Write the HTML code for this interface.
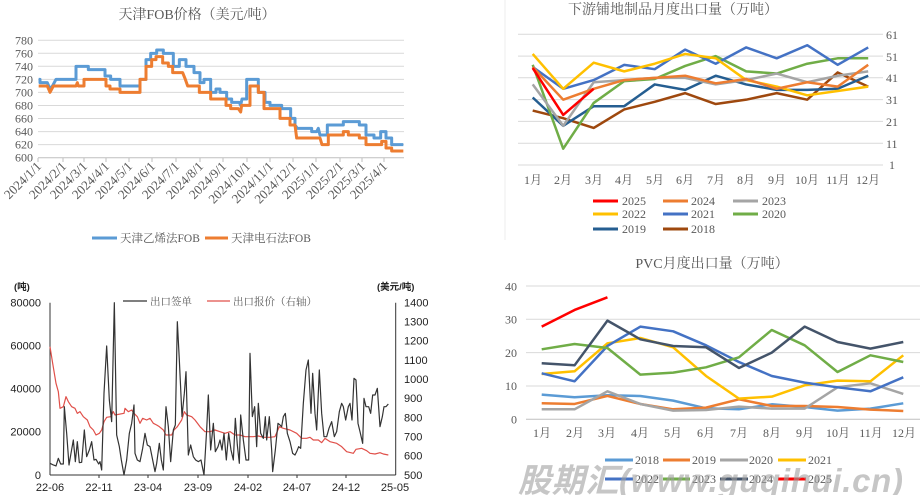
<!DOCTYPE html>
<html><head><meta charset="utf-8"><style>
html,body{margin:0;padding:0;background:#fff;}
svg{display:block;}
.s{font-family:"Liberation Serif","Noto Serif CJK SC",serif;fill:#595959;}
.a{font-family:"Liberation Sans","Noto Sans CJK SC",sans-serif;fill:#222;}
.ln{fill:none;vector-effect:non-scaling-stroke;stroke-linejoin:round;}
.g{stroke:#d9d9d9;stroke-width:1;}
</style></head><body>
<svg width="921" height="495" viewBox="0 0 921 495" xmlns="http://www.w3.org/2000/svg">
<rect width="921" height="495" fill="#fff"/>

<!-- Chart 1 -->
<text class="s" x="197" y="19" font-size="14" text-anchor="middle">天津FOB价格（美元/吨）</text>
<g class="g">
<line x1="38" x2="404" y1="40.2" y2="40.2"/><line x1="38" x2="404" y1="53.3" y2="53.3"/><line x1="38" x2="404" y1="66.3" y2="66.3"/><line x1="38" x2="404" y1="79.4" y2="79.4"/><line x1="38" x2="404" y1="92.4" y2="92.4"/><line x1="38" x2="404" y1="105.5" y2="105.5"/><line x1="38" x2="404" y1="118.5" y2="118.5"/><line x1="38" x2="404" y1="131.6" y2="131.6"/><line x1="38" x2="404" y1="144.6" y2="144.6"/>
</g>
<line x1="38" x2="404" y1="157.7" y2="157.7" stroke="#bfbfbf"/>
<g class="s" font-size="12" text-anchor="end">
<text x="33" y="44.5">780</text><text x="33" y="57.5">760</text><text x="33" y="70.5">740</text><text x="33" y="83.5">720</text><text x="33" y="96.5">700</text><text x="33" y="109.5">680</text><text x="33" y="122.5">660</text><text x="33" y="135.5">640</text><text x="33" y="148.5">620</text><text x="33" y="161.5">600</text>
</g>
<g stroke="#bfbfbf"><line x1="38" x2="38" y1="158" y2="162"/><line x1="63" x2="63" y1="158" y2="162"/><line x1="84" x2="84" y1="158" y2="162"/><line x1="106" x2="106" y1="158" y2="162"/><line x1="129" x2="129" y1="158" y2="162"/><line x1="152" x2="152" y1="158" y2="162"/><line x1="176" x2="176" y1="158" y2="162"/><line x1="200" x2="200" y1="158" y2="162"/><line x1="223" x2="223" y1="158" y2="162"/><line x1="247" x2="247" y1="158" y2="162"/><line x1="270" x2="270" y1="158" y2="162"/><line x1="293" x2="293" y1="158" y2="162"/><line x1="316" x2="316" y1="158" y2="162"/><line x1="340" x2="340" y1="158" y2="162"/><line x1="362" x2="362" y1="158" y2="162"/><line x1="384" x2="384" y1="158" y2="162"/></g>
<g class="s" font-size="13" text-anchor="end">
<text transform="translate(42,167) rotate(-45)">2024/1/1</text>
<text transform="translate(67,167) rotate(-45)">2024/2/1</text>
<text transform="translate(88,167) rotate(-45)">2024/3/1</text>
<text transform="translate(110,167) rotate(-45)">2024/4/1</text>
<text transform="translate(133,167) rotate(-45)">2024/5/1</text>
<text transform="translate(156,167) rotate(-45)">2024/6/1</text>
<text transform="translate(180,167) rotate(-45)">2024/7/1</text>
<text transform="translate(204,167) rotate(-45)">2024/8/1</text>
<text transform="translate(227,167) rotate(-45)">2024/9/1</text>
<text transform="translate(251,167) rotate(-45)">2024/10/1</text>
<text transform="translate(274,167) rotate(-45)">2024/11/1</text>
<text transform="translate(297,167) rotate(-45)">2024/12/1</text>
<text transform="translate(320,167) rotate(-45)">2025/1/1</text>
<text transform="translate(344,167) rotate(-45)">2025/2/1</text>
<text transform="translate(366,167) rotate(-45)">2025/3/1</text>
<text transform="translate(388,167) rotate(-45)">2025/4/1</text>
</g>
<g transform="scale(0.33333)">
<path class="ln" stroke="#5b9bd5" stroke-width="3" d="M116,238 H120 V248 H142 L150,267 L158,257 L168,238 H228 V199 H265 V209 H315 V228 H332 V238 H360 V258 H420 V238 H438 V179 H452 V160 H470 V150 H490 V160 H520 V199 H538 V179 H558 V199 H582 V218 H600 V248 H612 V238 H632 V277 H648 V267 H660 V277 H680 V297 H695 V307 H718 L722,316 L726,297 H740 V238 H775 V277 H795 V307 H810 V316 H845 V326 H872 V355 H885 V375 L892,385 H935 V395 H950 L955,385 L960,405 H982 V375 H1030 V365 H1078 V375 H1098 V405 H1122 V414 H1142 V395 H1158 V414 H1175 V434 H1210"/>
<path class="ln" stroke="#ed7d31" stroke-width="3" d="M116,258 H142 L150,277 L160,258 H228 L232,248 L235,258 H252 V238 H318 V258 H330 V267 H360 V277 H420 V238 H438 V199 H455 V179 H468 V170 H488 V189 H505 V199 H518 V218 H548 L556,238 L563,258 H598 V277 H632 V297 H678 V316 H692 V326 H715 L722,336 L725,316 H750 V258 H775 V277 H792 V326 H840 V355 H870 V375 H885 L890,414 H960 L966,434 H985 V405 H1030 V395 H1045 V405 H1078 V414 H1098 V434 H1145 V424 H1158 V444 H1175 V453 H1210"/>
</g>
<line x1="92" x2="117" y1="238" y2="238" stroke="#5b9bd5" stroke-width="3"/>
<text class="s" x="120" y="242" font-size="11.5">天津乙烯法FOB</text>
<line x1="205" x2="228" y1="238" y2="238" stroke="#ed7d31" stroke-width="3"/>
<text class="s" x="231" y="242" font-size="11.5">天津电石法FOB</text>

<!-- Chart 2 -->
<line x1="505" x2="505" y1="0" y2="240" stroke="#eeeeee"/>
<text class="s" x="673" y="14" font-size="14" text-anchor="middle">下游铺地制品月度出口量（万吨）</text>
<g class="g">
<line x1="518" x2="883" y1="34.3" y2="34.3"/><line x1="518" x2="883" y1="56.1" y2="56.1"/><line x1="518" x2="883" y1="77.8" y2="77.8"/><line x1="518" x2="883" y1="99.6" y2="99.6"/><line x1="518" x2="883" y1="121.4" y2="121.4"/><line x1="518" x2="883" y1="143.2" y2="143.2"/><line x1="518" x2="883" y1="165" y2="165"/>
</g>
<g class="s" font-size="12">
<text x="886" y="39">61</text><text x="886" y="61">51</text><text x="886" y="82">41</text><text x="886" y="104">31</text><text x="886" y="126">21</text><text x="886" y="148">11</text><text x="889" y="169">1</text>
</g>
<g class="s" font-size="12" text-anchor="middle">
<text x="533" y="184">1月</text><text x="563" y="184">2月</text><text x="594" y="184">3月</text><text x="624" y="184">4月</text><text x="655" y="184">5月</text><text x="685" y="184">6月</text><text x="716" y="184">7月</text><text x="746" y="184">8月</text><text x="777" y="184">9月</text><text x="807" y="184">10月</text><text x="838" y="184">11月</text><text x="868" y="184">12月</text>
</g>
<g transform="translate(532.7,167.18) scale(30.5,-2.1777)">
<polyline class="ln" stroke="#9e480e" stroke-width="2.5" points="0,26 1,22.5 2,18 3,26.5 4,30 5,34 6,29 7,31 8,34 9,31 10,43.5 11,37"/>
<polyline class="ln" stroke="#255e91" stroke-width="2.5" points="0,32 1,19 2,28 3,28 4,38 5,35.5 6,42 7,38 8,35.5 9,35.5 10,36 11,42"/>
<polyline class="ln" stroke="#70ad47" stroke-width="2.5" points="0,47 1,8.5 2,29.5 3,39.5 4,40.5 5,46.5 6,51 7,44 8,43 9,47.5 10,50 11,50"/>
<polyline class="ln" stroke="#4472c4" stroke-width="2.5" points="0,46 1,36 2,40 3,47 4,45 5,54 6,47.5 7,55 8,50 9,56 10,47 11,55"/>
<polyline class="ln" stroke="#ffc000" stroke-width="2.5" points="0,52 1,36 2,48 3,44 4,47.5 5,52 6,50 7,40 8,37 9,33 10,35 11,37"/>
<polyline class="ln" stroke="#a5a5a5" stroke-width="2.5" points="0,38 1,19 2,39 3,40 4,41 5,41 6,38 7,40 8,43 9,39 10,42 11,44"/>
<polyline class="ln" stroke="#ed7d31" stroke-width="2.5" points="0,46 1,31 2,36 3,40 4,41 5,42 6,38.5 7,40.5 8,36 9,39 10,37 11,47"/>
<polyline class="ln" stroke="#ff0000" stroke-width="2.5" points="0,45.5 1,24 2,36"/>
</g>
<g stroke-width="3">
<line x1="593" x2="618" y1="201" y2="201" stroke="#ff0000"/><line x1="663" x2="688" y1="201" y2="201" stroke="#ed7d31"/><line x1="733" x2="758" y1="201" y2="201" stroke="#a5a5a5"/>
<line x1="593" x2="618" y1="214" y2="214" stroke="#ffc000"/><line x1="663" x2="688" y1="214" y2="214" stroke="#4472c4"/><line x1="733" x2="758" y1="214" y2="214" stroke="#70ad47"/>
<line x1="593" x2="618" y1="229" y2="229" stroke="#255e91"/><line x1="663" x2="688" y1="229" y2="229" stroke="#9e480e"/>
</g>
<g class="s" font-size="12">
<text x="622" y="205">2025</text><text x="691" y="205">2024</text><text x="762" y="205">2023</text>
<text x="622" y="218">2022</text><text x="691" y="218">2021</text><text x="762" y="218">2020</text>
<text x="622" y="233">2019</text><text x="691" y="233">2018</text>
</g>

<!-- Chart 3 -->
<text class="a" x="14" y="290" font-size="9.5" font-weight="bold">(吨)</text>
<text class="a" x="377" y="290" font-size="9.5" font-weight="bold">(美元/吨)</text>
<line x1="50" x2="50" y1="302.7" y2="475" stroke="#333"/>
<line x1="395.7" x2="395.7" y1="302.7" y2="475" stroke="#333"/>
<line x1="50" x2="395.7" y1="475" y2="475" stroke="#333"/>
<g class="a" font-size="11" text-anchor="end">
<text x="41" y="306.5">80000</text><text x="41" y="349.5">60000</text><text x="41" y="392.5">40000</text><text x="41" y="435.5">20000</text><text x="41" y="479">0</text>
</g>
<g class="a" font-size="11">
<text x="404" y="306.5">1400</text><text x="404" y="325.5">1300</text><text x="404" y="344.5">1200</text><text x="404" y="364">1100</text><text x="404" y="383">1000</text><text x="404" y="402">900</text><text x="404" y="421.5">800</text><text x="404" y="440.5">700</text><text x="404" y="459.5">600</text><text x="404" y="479">500</text>
</g>
<g stroke="#333"><line x1="99" x2="99" y1="475" y2="478"/><line x1="148" x2="148" y1="475" y2="478"/><line x1="198" x2="198" y1="475" y2="478"/><line x1="248" x2="248" y1="475" y2="478"/><line x1="297" x2="297" y1="475" y2="478"/><line x1="346" x2="346" y1="475" y2="478"/></g>
<g class="a" font-size="11" text-anchor="middle">
<text x="50" y="491">22-06</text><text x="99" y="491">22-11</text><text x="148" y="491">23-04</text><text x="198" y="491">23-09</text><text x="248" y="491">24-02</text><text x="297" y="491">24-07</text><text x="346" y="491">24-12</text><text x="395" y="491">25-05</text>
</g>
<line x1="123" x2="147" y1="301" y2="301" stroke="#333" stroke-width="1.2"/>
<text class="s" x="150" y="305" font-size="10.5" fill="#444">出口签单</text>
<line x1="207" x2="230" y1="301" y2="301" stroke="#e0504a" stroke-width="1.2"/>
<text class="s" x="233" y="305" font-size="10.5" fill="#444">出口报价（右轴）</text>
<g transform="translate(0,260) scale(0.33333)">
<polyline class="ln" stroke="#e0504a" stroke-width="1.2" points="150,260 158,310 168,370 175,395 180,445 190,440 198,410 205,425 215,440 225,445 232,460 240,455 250,470 262,480 270,500 280,510 288,525 298,520 305,510 312,485 320,472 332,470 340,455 345,465 372,460 375,445 385,455 395,450 402,460 412,470 420,490 428,475 440,480 450,475 460,490 470,495 478,500 490,510 498,525 515,525 522,510 532,500 545,480 553,455 560,465 575,470 585,480 600,500 615,515 630,515 645,510 660,515 675,520 690,515 705,525 720,525 735,530 760,530 775,528 790,532 810,532 825,530 838,500 850,505 870,510 890,520 905,535 920,535 930,532 940,540 955,540 965,548 975,535 990,545 1010,550 1025,560 1040,575 1060,580 1068,568 1085,565 1100,572 1110,580 1125,582 1140,578 1150,582 1165,585"/>
<polyline class="ln" stroke="#333" stroke-width="1.2" points="150,610 160,615 168,618 175,595 182,612 190,612 193,440 200,520 207,615 213,580 220,540 226,605 232,545 238,608 245,607 253,510 260,590 268,570 275,545 282,600 288,598 296,612 300,605 305,630 312,400 320,258 328,420 335,485 343,128 350,525 358,560 364,600 372,645 380,600 388,520 395,490 402,435 405,580 412,600 420,605 428,565 435,520 442,555 450,560 458,600 465,635 470,610 478,550 484,600 490,630 498,440 505,500 512,605 520,510 526,495 532,185 538,300 546,470 553,400 558,335 565,585 572,555 580,590 587,600 595,605 603,600 612,645 620,510 625,405 632,570 640,490 646,575 654,560 660,540 666,570 672,520 679,600 686,520 693,570 700,600 706,475 712,555 718,610 722,465 730,540 738,600 746,600 750,280 757,470 764,440 770,560 775,430 782,520 790,535 796,470 800,540 808,470 815,570 818,635 826,570 834,490 840,495 845,500 850,470 856,460 862,520 870,545 878,580 885,585 890,575 896,560 902,565 910,430 918,330 925,300 933,460 938,340 945,460 950,510 958,330 965,460 972,530 980,530 987,505 995,485 1003,530 1010,515 1018,455 1025,430 1030,440 1037,480 1045,440 1050,430 1056,480 1062,355 1068,360 1074,490 1080,515 1088,550 1092,415 1098,440 1106,440 1112,460 1118,405 1125,405 1132,385 1140,500 1147,470 1152,440 1158,440 1165,432"/>
</g>

<!-- Chart 4 -->
<text class="s" x="712" y="268" font-size="14" text-anchor="middle">PVC月度出口量（万吨）</text>
<g class="g">
<line x1="526" x2="920" y1="286" y2="286"/><line x1="526" x2="920" y1="319.3" y2="319.3"/><line x1="526" x2="920" y1="352.6" y2="352.6"/><line x1="526" x2="920" y1="386" y2="386"/>
</g>
<line x1="526" x2="920" y1="419.3" y2="419.3" stroke="#bfbfbf"/>
<g class="s" font-size="12" text-anchor="end">
<text x="517" y="290.5">40</text><text x="517" y="323.5">30</text><text x="517" y="357">20</text><text x="517" y="390">10</text><text x="517" y="423.5">0</text>
</g>
<g class="s" font-size="12" text-anchor="middle">
<text x="542" y="437">1月</text><text x="575" y="437">2月</text><text x="607" y="437">3月</text><text x="640" y="437">4月</text><text x="673" y="437">5月</text><text x="706" y="437">6月</text><text x="739" y="437">7月</text><text x="772" y="437">8月</text><text x="805" y="437">9月</text><text x="838" y="437">10月</text><text x="871" y="437">11月</text><text x="904" y="437">12月</text>
</g>
<g transform="translate(541.7,419.3) scale(32.87,-3.333)">
<polyline class="ln" stroke="#5b9bd5" stroke-width="2.5" points="0,7.4 1,6.6 2,7.2 3,7 4,5.6 5,3.3 6,3 7,4.5 8,3.7 9,2.6 10,3.2 11,4.8"/>
<polyline class="ln" stroke="#ed7d31" stroke-width="2.5" points="0,4.8 1,4.6 2,7 3,4.6 4,3 5,3.5 6,6 7,4 8,4 9,3.7 10,2.9 11,2.5"/>
<polyline class="ln" stroke="#a5a5a5" stroke-width="2.5" points="0,3 1,3 2,8.4 3,4.6 4,2.6 5,2.8 6,3.8 7,3.2 8,3.2 9,9.6 10,10.8 11,7.6"/>
<polyline class="ln" stroke="#ffc000" stroke-width="2.5" points="0,13.6 1,14.4 2,22.8 3,24.4 4,21.6 5,13 6,6.2 7,6.8 8,10.2 9,11.6 10,11.4 11,19.2"/>
<polyline class="ln" stroke="#4472c4" stroke-width="2.5" points="0,13.8 1,11.4 2,22 3,27.8 4,26.4 5,22.2 6,17.2 7,13 8,11 9,9.6 10,8.4 11,12.6"/>
<polyline class="ln" stroke="#70ad47" stroke-width="2.5" points="0,21 1,22.6 2,21.4 3,13.4 4,14 5,15.6 6,18.6 7,26.8 8,22.2 9,14.2 10,19.2 11,17.2"/>
<polyline class="ln" stroke="#44546a" stroke-width="2.5" points="0,16.8 1,16.2 2,29.6 3,24 4,22 5,21.6 6,15.4 7,20 8,27.8 9,23.2 10,21.2 11,23.2"/>
<polyline class="ln" stroke="#ff0000" stroke-width="2.5" points="0,27.8 1,32.8 2,36.6"/>
</g>
<g stroke-width="3">
<line x1="605" x2="633" y1="460" y2="460" stroke="#5b9bd5"/><line x1="663" x2="690" y1="460" y2="460" stroke="#ed7d31"/><line x1="720" x2="748" y1="460" y2="460" stroke="#a5a5a5"/><line x1="778" x2="806" y1="460" y2="460" stroke="#ffc000"/>
<line x1="605" x2="633" y1="479" y2="479" stroke="#4472c4"/><line x1="663" x2="690" y1="479" y2="479" stroke="#70ad47"/><line x1="720" x2="748" y1="479" y2="479" stroke="#44546a"/><line x1="778" x2="806" y1="479" y2="479" stroke="#ff0000"/>
</g>
<g class="s" font-size="12">
<text x="635" y="464">2018</text><text x="692" y="464">2019</text><text x="749" y="464">2020</text><text x="808" y="464">2021</text>
<text x="635" y="483">2022</text><text x="692" y="483">2023</text><text x="749" y="483">2024</text><text x="808" y="483">2025</text>
</g>
<text x="518" y="492" font-family="'Liberation Sans','Noto Sans CJK SC',sans-serif" font-size="33" font-weight="bold" font-style="italic" fill="#a0a0a0" fill-opacity="0.6" textLength="385">股期汇(www.guqihui.cn)</text>
</svg>
</body></html>
